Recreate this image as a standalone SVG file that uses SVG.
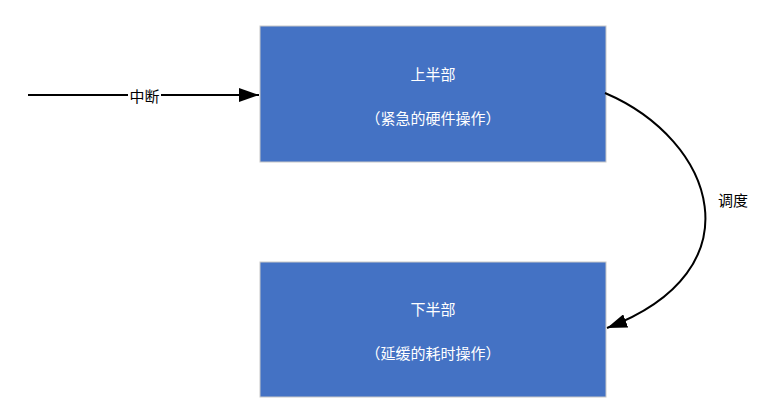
<svg xmlns="http://www.w3.org/2000/svg" width="765" height="405" viewBox="0 0 765 405">
<style>
.box{fill:#4472C4;stroke:#c8c8c8;stroke-width:1}
.t{font-family:"Noto Sans CJK SC","Liberation Sans",sans-serif;font-size:15px;fill:#ffffff;text-anchor:middle;dominant-baseline:central}
.lbl{font-family:"Noto Sans CJK SC","Liberation Sans",sans-serif;font-size:15px;fill:#000;text-anchor:middle;dominant-baseline:central}
.edge{fill:none;stroke:#000;stroke-width:2}
</style>
<defs>
<marker id="ah2" markerWidth="20" markerHeight="14" refX="20" refY="7" markerUnits="userSpaceOnUse" orient="auto">
<path d="M0,0 L20,7 L0,14 Z" fill="#000"/>
</marker>
</defs>
<g id="top">
<rect class="box" x="260" y="26" width="346" height="136"/>
<text class="t" x="433" y="73">上半部</text>
<text class="t" x="433" y="117">（紧急的硬件操作）</text>
</g>
<g id="bottom">
<rect class="box" x="260" y="262" width="346" height="135"/>
<text class="t" x="433" y="308">下半部</text>
<text class="t" x="433" y="352">（延缓的耗时操作）</text>
</g>
<g id="connectors">
<path class="edge" d="M28,95 L259,95" marker-end="url(#ah2)"/>
<rect x="128" y="86" width="33" height="18" fill="#fff"/>
<text class="lbl" x="144.5" y="95">中断</text>
<path class="edge" d="M605,93 C715,140 760,270 607,328" marker-end="url(#ah2)"/>
<text class="lbl" x="733" y="199">调度</text>
</g>
</svg>
